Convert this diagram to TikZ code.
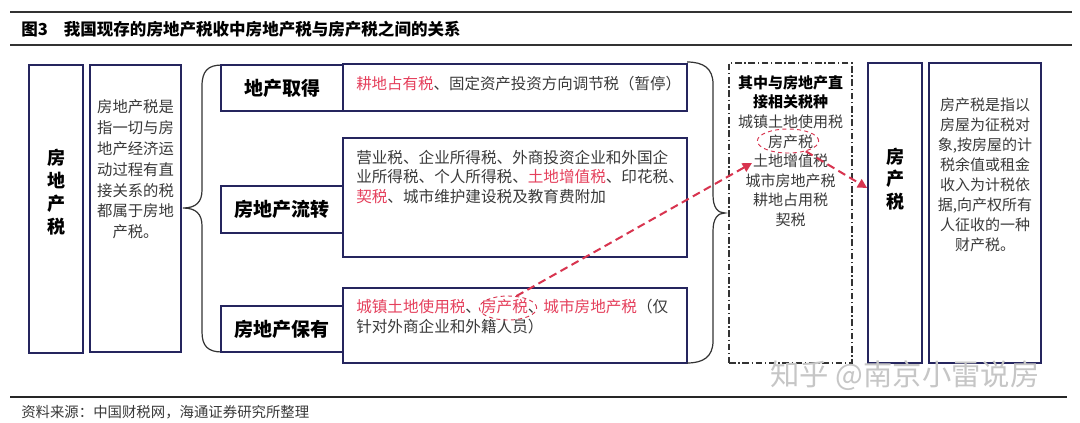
\documentclass[tikz,border=0pt]{standalone}
\usepackage{fontspec}
\setmainfont{Noto Sans CJK SC}
\usetikzlibrary{shapes.geometric,arrows.meta,fit}
\definecolor{navy}{HTML}{25255E}
\definecolor{txt}{HTML}{3A3A3A}
\definecolor{redt}{HTML}{E5405C}
\definecolor{arrowred}{HTML}{D8344F}
\definecolor{brc}{HTML}{333333}
\newcommand\myfs[2]{\fontsize{#1}{#2}\selectfont}
\newcommand\rt[1]{\textcolor{redt}{#1}}
\begin{document}
\begin{tikzpicture}[x=0.75pt,y=-0.75pt,
  nbox/.style={draw=navy,line width=1.3pt,inner sep=0pt},
  biglabel/.style={font=\myfs{14.25}{17}\bfseries,text=black,align=center},
  vlabel/.style={font=\myfs{13.5}{17.25}\bfseries,text=black,align=center},
  desc/.style={font=\myfs{11.25}{15.5},text=txt,inner sep=0pt},
  bracestyle/.style={draw=brc,line width=0.9pt},
  redarrow/.style={draw=arrowred,line width=1.5pt,dash pattern=on 6pt off 3.5pt,
     -{Triangle[length=7pt,width=7pt]}},
  redell/.style={ellipse,draw=arrowred,line width=0.7pt,dash pattern=on 3pt off 2.5pt,inner sep=0pt},
  dashdotbox/.style={draw=brc,line width=0.9pt,dash pattern=on 5pt off 2pt on 1pt off 2pt,inner sep=0pt}]
\useasboundingbox (0,0) rectangle (1080,422);
\fill[white] (0,0) rectangle (1080,422);

% title
\coordinate (r1a) at (10,12); \coordinate (r1b) at (1072,12);
\draw[line width=1.6pt,black!80] (r1a) -- (r1b);
\node[anchor=west,inner sep=0pt,font=\myfs{12.4}{14}\bfseries] (title) at (21,29)
  {图3\hspace{12pt}我国现存的房地产税收中房地产税与房产税之间的关系};
\coordinate (r2a) at (10,45); \coordinate (r2b) at (1072,45);
\draw[line width=1.1pt,black!80] (r2a) -- (r2b);

% left boxes
\node[nbox,fit={(29,65) (83,353)}] (A) {};
\node[vlabel] (Alab) at (56,192) {房\\地\\产\\税};
\node[nbox,fit={(90,65) (181,352)}] (B) {};
\node[desc,align=center,font=\myfs{11.5}{15.6}] (Btxt) at (135.5,169.5)
  {房地产税是\\指一切与房\\地产经济运\\动过程有直\\接关系的税\\都属于房地\\产税。};

% left brace
\draw[bracestyle] (222,65) .. controls (208,65) and (202,71) .. (202,86) -- (202,190)
  .. controls (202,202) and (196,208) .. (183,208)
  .. controls (196,208) and (202,214) .. (202,226) -- (202,332)
  .. controls (202,346) and (208,352) .. (222,352);

% category boxes
\node[nbox,fit={(221,65) (343,111)},biglabel] (C1) {};
\node[biglabel] (C1t) at (C1.center) {地产取得};
\node[nbox,fit={(221,186) (343,233)}] (C2) {};
\node[biglabel] (C2t) at (C2.center) {房地产流转};
\node[nbox,fit={(221,306) (343,352)}] (C3) {};
\node[biglabel] (C3t) at (C3.center) {房地产保有};

% detail boxes
\node[nbox,fit={(343,64) (687,111)}] (D1) {};
\node[desc,anchor=west,font=\myfs{11.6}{15}] (D1t) at (356,84)
  {\rt{耕地占有税}、固定资产投资方向调节税（暂停）};
\node[nbox,fit={(343,138) (687,257)}] (D2) {};
\node[desc,anchor=west,align=left,font=\myfs{11.7}{14.8}] (D2t) at (356,177)
  {营业税、企业所得税、外商投资企业和外国企\\
   业所得税、个人所得税、\rt{土地增值税}、印花税、\\
   \rt{契税}、城市维护建设税及教育费附加};
\node[nbox,fit={(343,288) (687,363)}] (D3) {};
\node[desc,anchor=west,align=left,font=\myfs{11.7}{15}] (D3t) at (356,317)
  {\rt{城镇土地使用税}、\rt{房产税}、\rt{城市房地产税}（仅\\
   针对外商企业和外籍人员）};

% right brace
\draw[bracestyle] (687,62) .. controls (703,62) and (713,68) .. (713,84) -- (713,195)
  .. controls (713,208) and (718,213) .. (725,213)
  .. controls (718,213) and (713,218) .. (713,231) -- (713,341)
  .. controls (713,357) and (703,363) .. (687,363);

% dashed box
\node[dashdotbox,fit={(729,63) (852,363)}] (E) {};
\node[desc,align=center,font=\myfs{11.25}{14.7}] (Et) at (790.5,151)
  {\textbf{\textcolor{black}{其中与房地产直}}\\\textbf{\textcolor{black}{接相关税种}}\\
   城镇土地使用税\\房产税\\土地增值税\\城市房地产税\\耕地占用税\\契税};

% right boxes
\node[nbox,fit={(868,63) (922,363)}] (F) {};
\node[vlabel,font=\myfs{13.5}{17}\bfseries] (Ft) at (895,179) {房\\产\\税};
\node[nbox,fit={(929,63) (1041,363)}] (G) {};
\node[desc,align=center,font=\myfs{11.25}{15}] (Gt) at (985,175)
  {房产税是指以\\房屋为征税对\\象,按房屋的计\\税余值或租金\\收入为计税依\\据,向产权所有\\人征收的一种\\财产税。};

% red ellipses and arrows
\node[redell,minimum width=43pt,minimum height=18pt] (e1) at (508,308) {};
\node[redell,minimum width=46pt,minimum height=18pt] (e2) at (788,141) {};
\coordinate (t1) at (752,163);
\coordinate (t2) at (F.west |- 0,188);
\draw[redarrow] (e1.55) -- (t1);
\draw[redarrow] (e2.-30) -- (t2);

% watermark
\node[font=\myfs{22}{24},text=gray!45,inner sep=0pt] (wm) at (905,376) {知乎 @南京小雷说房};

% footer
\coordinate (r3a) at (10,397); \coordinate (r3b) at (1067,397);
\draw[line width=0.8pt,black!85] (r3a) -- (r3b);
\node[anchor=west,inner sep=0pt,font=\myfs{10.8}{12},text=txt] (src) at (21,412)
  {资料来源：中国财税网，海通证券研究所整理};
\end{tikzpicture}
\end{document}
